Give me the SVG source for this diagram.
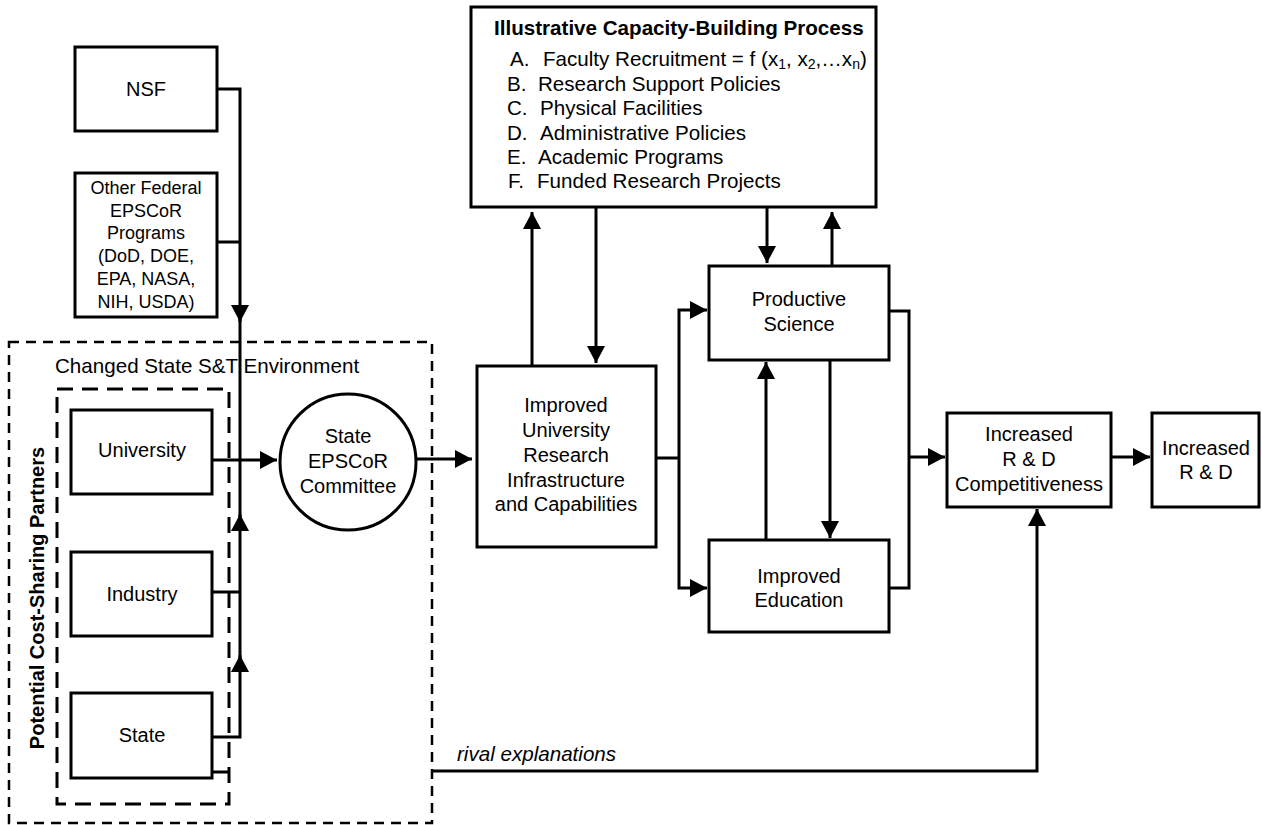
<svg xmlns="http://www.w3.org/2000/svg" width="1262" height="825" viewBox="0 0 1262 825">
<style>
.box{fill:#fff;stroke:#000;stroke-width:3}
.t{font-family:"Liberation Sans",Arial,sans-serif;font-size:20px;fill:#000;text-anchor:middle}
.ts{font-family:"Liberation Sans",Arial,sans-serif;font-size:18px;fill:#000;text-anchor:middle}
.l{font-family:"Liberation Sans",Arial,sans-serif;font-size:20.6px;fill:#000}
.b{font-weight:bold}
.c{fill:none;stroke:#000;stroke-width:3}
.a{marker-end:url(#arr)}
.dash1{fill:none;stroke:#000;stroke-width:2.5;stroke-dasharray:10 7}
.dash2{fill:none;stroke:#000;stroke-width:3;stroke-dasharray:16 9}
</style>
<defs>
<marker id="arr" viewBox="0 0 17 18" markerWidth="17" markerHeight="18" refX="17" refY="9" orient="auto" markerUnits="userSpaceOnUse">
<path d="M0,0 L17,9 L0,18 Z" fill="#000"/>
</marker>
</defs>
<rect width="1262" height="825" fill="#fff"/>

<g id="env">
<rect class="dash1" x="9" y="342" width="423" height="481"/>
<text class="l" x="55" y="373" font-size="20.8">Changed State S&amp;T Environment</text>
</g>
<g id="partners">
<rect class="dash2" x="57" y="389" width="172" height="415"/>
<text class="t b" transform="translate(44,598) rotate(-90)" font-size="20.3">Potential Cost-Sharing Partners</text>
</g>

<g id="connectors">
<path class="c a" d="M217,89 H240 V322"/>
<path class="c" d="M240,318 V460"/>
<path class="c" d="M217,242 H240"/>
<path class="c a" d="M212,460 H277"/>
<path class="c" d="M212,592 H240"/>
<path class="c a" d="M212,737 H240 V655"/>
<path class="c a" d="M240,660 V514"/>
<path class="c" d="M240,518 V460"/>
<path class="c" d="M212,772 H229"/>
<path class="c a" d="M416,459 H472"/>
<path class="c a" d="M532,366 V212"/>
<path class="c a" d="M596,207 V363"/>
<path class="c" d="M656,458 H679"/>
<path class="c a" d="M679,458 V310 H707"/>
<path class="c a" d="M679,458 V588 H707"/>
<path class="c a" d="M767,207 V263"/>
<path class="c a" d="M832,266 V212"/>
<path class="c a" d="M766,540 V362"/>
<path class="c a" d="M830,360 V538"/>
<path class="c" d="M889,311 H909 V588 H889"/>
<path class="c a" d="M909,457 H945"/>
<path class="c a" d="M1111,457 H1150"/>
<path class="c a" d="M432,771 H1037 V509"/>
<text class="l" x="457" y="761" font-style="italic">rival explanations</text>
</g>

<g id="nsf">
<rect class="box" x="75" y="47" width="142" height="84"/>
<text class="t" x="146" y="96">NSF</text>
</g>
<g id="other-federal">
<rect class="box" x="75" y="173" width="142" height="144"/>
<text class="ts"><tspan x="146" y="194">Other Federal</tspan><tspan x="146" y="217">EPSCoR</tspan><tspan x="146" y="239">Programs</tspan><tspan x="146" y="262">(DoD, DOE,</tspan><tspan x="146" y="285">EPA, NASA,</tspan><tspan x="146" y="308">NIH, USDA)</tspan></text>
</g>
<g id="university">
<rect class="box" x="71" y="410" width="141" height="84"/>
<text class="t" x="142" y="457">University</text>
</g>
<g id="industry">
<rect class="box" x="71" y="552" width="141" height="84"/>
<text class="t" x="142" y="601">Industry</text>
</g>
<g id="state">
<rect class="box" x="71" y="693" width="141" height="85"/>
<text class="t" x="142" y="742">State</text>
</g>
<g id="committee">
<circle class="box" cx="348" cy="462" r="68"/>
<text class="t"><tspan x="348" y="443">State</tspan><tspan x="348" y="468">EPSCoR</tspan><tspan x="348" y="493">Committee</tspan></text>
</g>
<g id="process">
<rect class="box" x="471" y="7" width="405" height="200"/>
<text class="l b" x="494" y="35">Illustrative Capacity-Building Process</text>
<text class="l"><tspan x="510" y="66">A.</tspan><tspan x="543" y="66">Faculty Recruitment = f (x<tspan font-size="14" dy="3">1</tspan><tspan dy="-3">, x</tspan><tspan font-size="14" dy="3">2</tspan><tspan dy="-3">,…x</tspan><tspan font-size="14" dy="3">n</tspan><tspan dy="-3">)</tspan></tspan></text>
<text class="l"><tspan x="507" y="91">B.</tspan><tspan x="538" y="91">Research Support Policies</tspan></text>
<text class="l"><tspan x="507" y="115">C.</tspan><tspan x="540" y="115">Physical Facilities</tspan></text>
<text class="l"><tspan x="507" y="140">D.</tspan><tspan x="540" y="140">Administrative Policies</tspan></text>
<text class="l"><tspan x="507" y="164">E.</tspan><tspan x="538" y="164">Academic Programs</tspan></text>
<text class="l"><tspan x="508" y="188">F.</tspan><tspan x="537" y="188">Funded Research Projects</tspan></text>
</g>
<g id="infrastructure">
<rect class="box" x="477" y="366" width="179" height="181"/>
<text class="t"><tspan x="566" y="412">Improved</tspan><tspan x="566" y="437">University</tspan><tspan x="566" y="462">Research</tspan><tspan x="566" y="487">Infrastructure</tspan><tspan x="566" y="511">and Capabilities</tspan></text>
</g>
<g id="science">
<rect class="box" x="709" y="266" width="180" height="94"/>
<text class="t"><tspan x="799" y="306">Productive</tspan><tspan x="799" y="331">Science</tspan></text>
</g>
<g id="education">
<rect class="box" x="709" y="540" width="180" height="92"/>
<text class="t"><tspan x="799" y="583">Improved</tspan><tspan x="799" y="607">Education</tspan></text>
</g>
<g id="competitiveness">
<rect class="box" x="947" y="413" width="164" height="94"/>
<text class="t"><tspan x="1029" y="441">Increased</tspan><tspan x="1029" y="466">R &amp; D</tspan><tspan x="1029" y="491">Competitiveness</tspan></text>
</g>
<g id="increased-rd">
<rect class="box" x="1152" y="413" width="107" height="94"/>
<text class="t"><tspan x="1206" y="455">Increased</tspan><tspan x="1206" y="479">R &amp; D</tspan></text>
</g>
</svg>
